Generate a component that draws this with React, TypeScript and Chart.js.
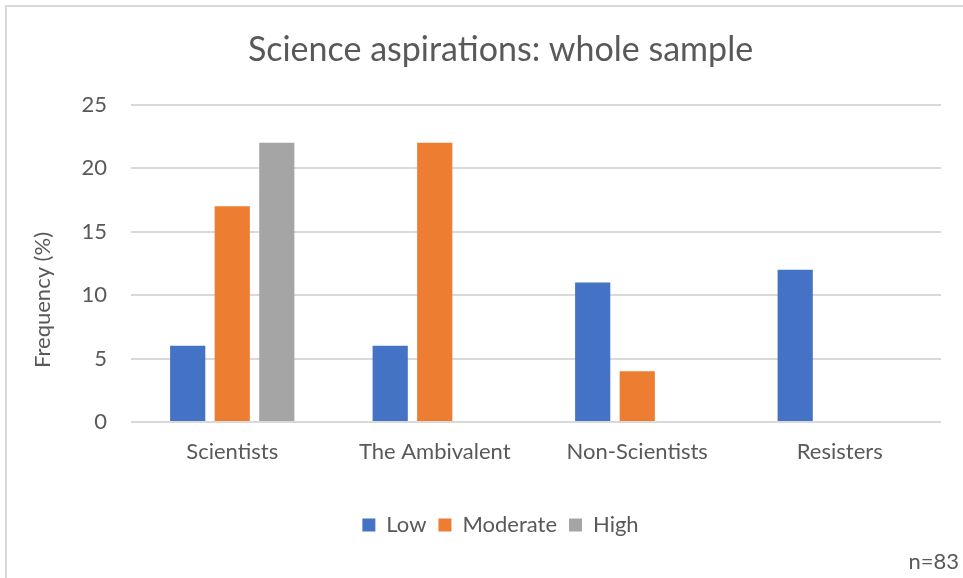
import React, { useEffect, useRef } from "react";
import { Chart, registerables } from "chart.js";

Chart.register(...registerables);

const categories = ["Scientists", "The Ambivalent", "Non-Scientists", "Resisters"];
const lowValues = [6, 6, 11, 12];
const moderateValues = [17, 22, 4, 0];
const highValues = [22, 0, 0, 0];
const seriesNames = ["Low", "Moderate", "High"];
const seriesColors = ["#4472C4", "#ED7D31", "#A5A5A5"];
const yMin = 0;
const yMax = 25;
const yStep = 5;
const titleText = "Science aspirations: whole sample";
const yAxisTitle = "Frequency (%)";
const noteText = "n=83";

const FONT = "Lato, 'Liberation Sans', sans-serif";
const TEXT = "#595959";

const extrasPlugin = {
  id: "extras",
  beforeDraw(chart: any) {
    const { ctx, width, height } = chart;
    ctx.save();
    ctx.fillStyle = "#ffffff";
    ctx.fillRect(0, 0, width, height);
    ctx.strokeStyle = "#d9d9d9";
    ctx.lineWidth = 2;
    ctx.beginPath();
    ctx.moveTo(6, height);
    ctx.lineTo(6, 6);
    ctx.lineTo(width, 6);
    ctx.stroke();
    ctx.restore();
  },
  afterDraw(chart: any) {
    const { ctx, width, height } = chart;
    ctx.save();
    ctx.fillStyle = TEXT;
    ctx.font = `22px ${FONT}`;
    ctx.textAlign = "center";
    ctx.textBaseline = "middle";
    ctx.translate(43, 300);
    ctx.rotate(-Math.PI / 2);
    ctx.fillText(yAxisTitle, 0, 0);
    ctx.restore();
    ctx.save();
    ctx.fillStyle = TEXT;
    ctx.font = `22px ${FONT}`;
    ctx.textAlign = "right";
    ctx.textBaseline = "middle";
    ctx.fillText(noteText, width - 4, height - 16);
    ctx.restore();
  },
};

export default function App() {
  const ref = useRef<HTMLCanvasElement | null>(null);
  useEffect(() => {
    document.body.style.margin = "0";
    const values = [lowValues, moderateValues, highValues];
    const chart = new Chart(ref.current as HTMLCanvasElement, {
      type: "bar",
      data: {
        labels: categories,
        datasets: seriesNames.map((name, i) => ({
          label: name,
          data: values[i],
          backgroundColor: seriesColors[i],
          borderWidth: 0,
          categoryPercentage: 0.66,
          barPercentage: 0.79,
        })),
      },
      options: {
        animation: false,
        responsive: false,
        maintainAspectRatio: false,
        layout: { padding: { left: 60, right: 22, top: 0, bottom: 32 } },
        plugins: {
          title: {
            display: true,
            text: titleText,
            color: TEXT,
            font: { family: FONT, size: 34, weight: "normal" },
            padding: { top: 30, bottom: 34 },
          },
          legend: {
            position: "bottom",
            labels: {
              color: TEXT,
              font: { family: FONT, size: 22 },
              boxWidth: 13,
              boxHeight: 13,
              padding: 12,
            },
          },
          tooltip: { enabled: false },
        },
        scales: {
          x: {
            grid: { display: false, drawTicks: false },
            border: { display: false },
            ticks: { color: TEXT, font: { family: FONT, size: 22 }, padding: 17 },
            afterFit(scale: any) {
              scale.height = 80;
            },
          },
          y: {
            min: yMin,
            max: yMax,
            ticks: { stepSize: yStep, color: TEXT, font: { family: FONT, size: 22 }, padding: 24 },
            grid: { color: "#d9d9d9", lineWidth: 2, drawTicks: false },
            border: { display: false },
            afterFit(scale: any) {
              scale.width = 71;
            },
          },
        },
      },
      plugins: [extrasPlugin],
    });
    return () => chart.destroy();
  }, []);
  return (
    <div style={{ position: "fixed", left: 0, top: 0, width: 963, height: 578 }}>
      <canvas ref={ref} width={963} height={578} style={{ width: 963, height: 578 }} />
    </div>
  );
}
